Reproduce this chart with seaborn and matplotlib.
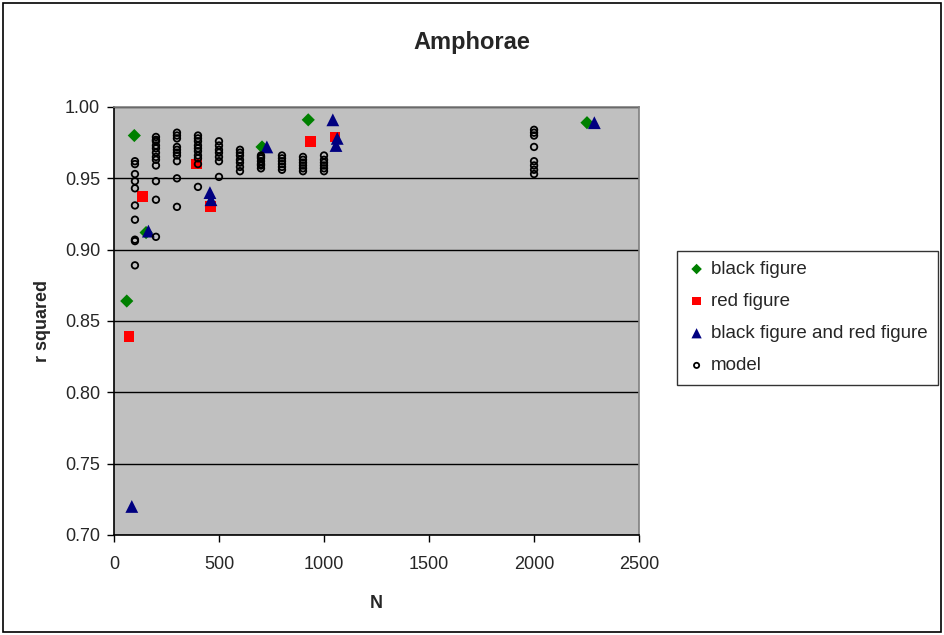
import pandas as pd
import matplotlib
matplotlib.use("Agg")
import matplotlib.pyplot as plt
import seaborn as sns

# Data
black_n = [61, 97, 153, 705, 925, 2252]
black_r = [0.864, 0.980, 0.912, 0.972, 0.991, 0.989]

red_n = [72, 137, 394, 460, 936, 1052]
red_r = [0.839, 0.937, 0.960, 0.930, 0.976, 0.979]

both_n = [85, 164, 457, 462, 728, 1042, 1057, 1063, 2287]
both_r = [0.720, 0.913, 0.940, 0.935, 0.972, 0.991, 0.973, 0.978, 0.989]

model_cols = {
    100: [0.962, 0.960, 0.953, 0.948, 0.943, 0.931, 0.921, 0.907, 0.906, 0.889],
    200: [0.979, 0.977, 0.976, 0.973, 0.971, 0.968, 0.965, 0.963, 0.959, 0.948, 0.935, 0.909],
    300: [0.982, 0.980, 0.978, 0.972, 0.970, 0.968, 0.966, 0.962, 0.950, 0.930],
    400: [0.980, 0.978, 0.976, 0.973, 0.971, 0.969, 0.966, 0.964, 0.960, 0.944],
    500: [0.976, 0.973, 0.970, 0.968, 0.965, 0.962, 0.951],
    600: [0.970, 0.968, 0.966, 0.963, 0.961, 0.958, 0.955],
    700: [0.966, 0.965, 0.964, 0.962, 0.960, 0.959, 0.957],
    800: [0.966, 0.964, 0.962, 0.960, 0.958, 0.956],
    900: [0.965, 0.963, 0.961, 0.959, 0.957, 0.955],
    1000: [0.966, 0.963, 0.961, 0.959, 0.957, 0.955],
    2000: [0.984, 0.982, 0.980, 0.972, 0.962, 0.959, 0.956, 0.953],
}

model = pd.DataFrame(
    [(n, r) for n, rs in model_cols.items() for r in rs], columns=["N", "r"]
)

sns.set_style("white")
plt.rcParams["font.family"] = ["Liberation Sans", "DejaVu Sans"]

fig = plt.figure(figsize=(9.44, 6.35), dpi=100)
ax = fig.add_axes([0.1207, 0.1575, 0.677 - 0.1207, 0.8315 - 0.1575])
ax.set_facecolor("#C0C0C0")

# outer chart border
fig.patches.append(plt.Rectangle((0.003, 0.005), 0.994, 0.99, transform=fig.transFigure,
                                 fill=False, edgecolor="black", linewidth=1.2))

sns.scatterplot(x=black_n, y=black_r, marker="D", color="#008000", s=45,
                edgecolor="none", label="black figure", ax=ax, zorder=3)
sns.scatterplot(x=red_n, y=red_r, marker="s", color="#FF0000", s=60,
                edgecolor="none", label="red figure", ax=ax, zorder=3)
sns.scatterplot(x=both_n, y=both_r, marker="^", color="#000080", s=85,
                edgecolor="none", label="black figure and red figure", ax=ax, zorder=4)
sns.scatterplot(data=model, x="N", y="r", marker="o", s=22, facecolor="none",
                edgecolor="black", linewidth=1.3, label="model", ax=ax, zorder=5)

ax.set_xlim(0, 2500)
ax.set_ylim(0.70, 1.00)
ax.set_xticks([0, 500, 1000, 1500, 2000, 2500])
ax.set_yticks([0.70, 0.75, 0.80, 0.85, 0.90, 0.95, 1.00])
ax.set_yticklabels([f"{v:.2f}" for v in ax.get_yticks()])
ax.yaxis.grid(True, color="black", linewidth=1)
ax.set_axisbelow(True)
ax.tick_params(axis="both", direction="out", length=5, width=1, color="black",
               labelsize=13, bottom=True, left=True)
ax.tick_params(axis="x", pad=10)
ax.tick_params(axis="y", pad=5)

for side in ["top", "right"]:
    ax.spines[side].set_color("#808080")
for side in ["left", "bottom"]:
    ax.spines[side].set_color("black")
for sp in ax.spines.values():
    sp.set_linewidth(1.2)

ax.set_xlabel("N", fontsize=13, fontweight="bold", labelpad=16)
ax.set_ylabel("r squared", fontsize=13, fontweight="bold", labelpad=10)
fig.text(0.5, 0.933, "Amphorae", ha="center", va="center", fontsize=17, fontweight="bold")

leg = ax.legend(loc="center left", bbox_to_anchor=(1.072, 0.508), frameon=True,
                fancybox=False, fontsize=13.5, handletextpad=0.25, borderpad=0.55,
                labelspacing=0.8, handlelength=1.0, borderaxespad=0, markerscale=0.8)
leg.get_frame().set_edgecolor("black")
leg.get_frame().set_linewidth(1)

fig.savefig("out.png", dpi=100)
